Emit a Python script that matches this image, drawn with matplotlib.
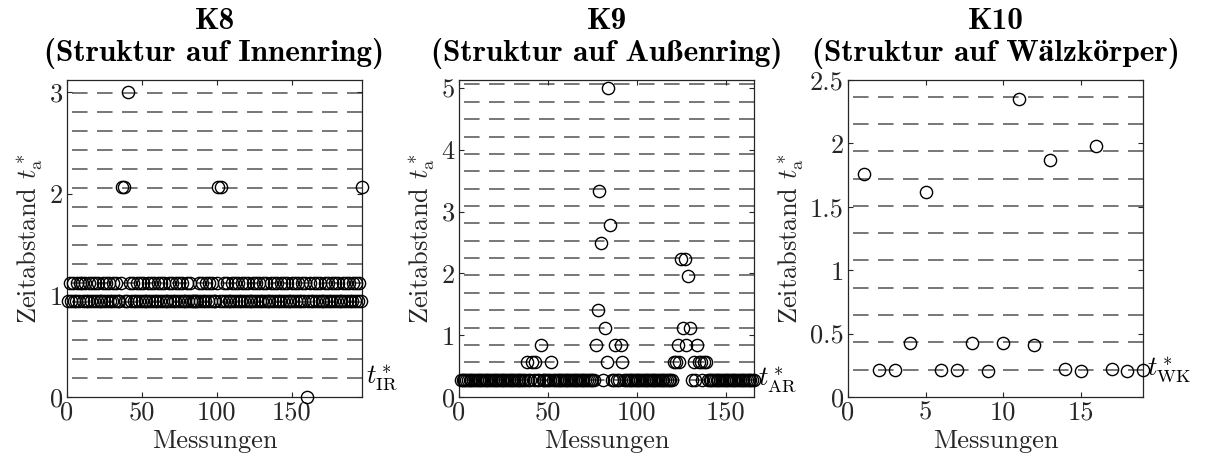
import matplotlib
matplotlib.use("Agg")
import matplotlib.pyplot as plt
from matplotlib.ticker import FuncFormatter

plt.rcParams["font.family"] = ["cmr10", "STIXGeneral"]
plt.rcParams["mathtext.fontset"] = "cm"
plt.rcParams["axes.unicode_minus"] = False
plt.rcParams["axes.formatter.use_mathtext"] = True
plt.rcParams["lines.scale_dashes"] = False

U, L = 1.125, 0.944

# K8: structure on the inner ring (one value per measurement)
k8_values = [
    L, U, L, U, L, L, U, L, U, U,
    L, U, L, L, U, L, U, L, U, L,
    U, L, L, U, L, U, L, U, L, L,
    U, L, U, L, L, U, 2.06, 2.06, L, L,
    2.995, U, L, U, L, L, U, L, U, L,
    U, L, L, U, L, U, L, U, L, L,
    U, L, U, L, U, L, L, U, L, U,
    L, L, U, L, U, L, U, L, L, U,
    L, U, L, L, L, L, L, U, L, U,
    L, L, U, L, U, L, U, L, L, U,
    2.06, L, 2.06, L, U, L, U, L, L, U,
    L, U, L, U, L, L, U, L, U, L,
    U, L, L, U, L, U, L, U, L, L,
    U, L, U, L, L, U, L, U, L, U,
    L, L, U, L, U, L, U, L, L, U,
    L, U, L, U, L, L, U, L, U, 0.0,
    L, U, L, L, U, L, U, L, U, L,
    L, U, L, U, L, L, U, L, U, L,
    U, L, L, U, L, U, L, U, L, L,
    U, L, U, L, U, L, 2.06,
]
k8_t = 0.1866
k8_lines = 16

# K9: structure on the outer ring
B = 0.281
k9_values = (
    [B] * 37 + [0.56, B, B, 0.56, B, 0.56, B, B, 0.845] + [B] * 5 + [0.56]
    + [B] * 24
    + [0.845, 1.40, 3.335, 2.50, B, 1.12, 0.56, 5.00, 2.78, B, B, 0.845, B, B, 0.845, 0.56]
    + [B] * 28
    + [0.56, 0.56, 0.845, 0.56, 2.24, 1.12, 2.24, 0.845, 1.96, 1.12,
       B, 0.56, B, 0.845, 0.56, 0.56, B, 0.56, 0.56]
    + [B] * 27
)
k9_t = 0.281
k9_lines = 18

# K10: structure on the rolling element
k10_values = [1.755, 0.213, 0.213, 0.424, 1.613, 0.213, 0.213, 0.424, 0.205, 0.424,
              2.35, 0.413, 1.866, 0.224, 0.203, 1.976, 0.221, 0.208, 0.213]
k10_t = 0.2153
k10_lines = 11

panels = [
    dict(vals=k8_values, t=k8_t, n=k8_lines, ylim=3.117, yticks=[0, 1, 2, 3],
         xticks=[0, 50, 100, 150], title="K8\n(Struktur auf Innenring)",
         tlabel=r"$t^*_\mathrm{IR}$", left=67),
    dict(vals=k9_values, t=k9_t, n=k9_lines, ylim=5.13, yticks=[0, 1, 2, 3, 4, 5],
         xticks=[0, 50, 100, 150], title="K9\n(Struktur auf Außenring)",
         tlabel=r"$t^*_\mathrm{AR}$", left=459),
    dict(vals=k10_values, t=k10_t, n=k10_lines, ylim=2.5,
         yticks=[0, 0.5, 1, 1.5, 2, 2.5], xticks=[0, 5, 10, 15],
         title="K10\n(Struktur auf Wälzkörper)", tlabel=r"$t^*_\mathrm{WK}$", left=848),
]

W, H = 1210, 468
fig = plt.figure(figsize=(W / 100, H / 100), dpi=100)
axc = "#262626"
fs = 19

for p in panels:
    ax = fig.add_axes([p["left"] / W, (H - 397) / H, 295 / W, 317 / H])
    vals = p["vals"]
    xs = list(range(1, len(vals) + 1))
    for k in range(1, p["n"] + 1):
        ax.axhline(k * p["t"], color="#777777", lw=1.4,
                   linestyle=(14.4, (11.2, 6.8)), zorder=1)
    ax.plot(xs, vals, linestyle="none", marker="o", ms=8.8, mfc="none",
            mec="black", mew=1.0, clip_on=False, zorder=3)
    ax.set_xlim(0, len(vals))
    ax.set_ylim(0, p["ylim"])
    ax.set_xticks(p["xticks"])
    ax.set_yticks(p["yticks"])
    ax.yaxis.set_major_formatter(FuncFormatter(lambda v, _: f"{v:g}"))
    ax.xaxis.set_major_formatter(FuncFormatter(lambda v, _: f"{v:g}"))
    ax.tick_params(direction="in", length=3.5, width=0.8, top=True, right=True,
                   labelsize=fs, colors=axc, labelcolor=axc, pad=3)
    for s in ax.spines.values():
        s.set_color(axc)
        s.set_linewidth(0.9)
    ax.set_xlabel("Messungen", fontsize=fs, color=axc, labelpad=3)
    ax.set_ylabel(r"Zeitabstand $t^*_\mathrm{a}$", fontsize=fs, color=axc, labelpad=3)
    ax.set_title(p["title"], fontsize=22.5, fontfamily=["cmb10", "STIXGeneral"],
                 fontweight="bold", linespacing=1.12, pad=14)
    ax.text(len(vals) * 1.012, p["t"], p["tlabel"], fontsize=fs, ha="left",
            va="center", color="black")

fig.savefig("out.png", dpi=100, facecolor="white")
